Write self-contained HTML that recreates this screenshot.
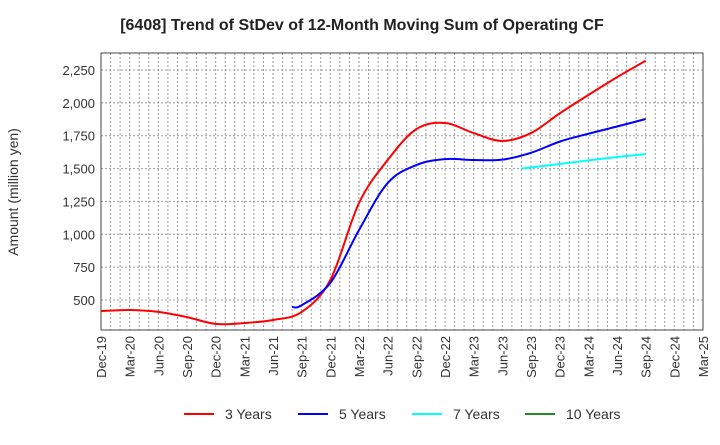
<!DOCTYPE html>
<html><head><meta charset="utf-8"><style>
body{margin:0;background:#fff;font-family:"Liberation Sans",sans-serif;}
svg text{font-family:"Liberation Sans",sans-serif;}
</style></head><body>
<svg width="720" height="440" xmlns="http://www.w3.org/2000/svg" id="svg">
<text x="362" y="30" text-anchor="middle" font-size="16" font-weight="bold" fill="#222">[6408]  Trend of StDev of 12-Month Moving Sum of Operating CF</text>
<text transform="translate(18,192) rotate(-90)" text-anchor="middle" font-size="14" fill="#333">Amount (million yen)</text>
<g id="grid"></g><g id="series"></g><g id="axes"></g><g id="legend"></g>
</svg>
<script>
const xLabels=["Dec-19","Mar-20","Jun-20","Sep-20","Dec-20","Mar-21","Jun-21","Sep-21","Dec-21","Mar-22","Jun-22","Sep-22","Dec-22","Mar-23","Jun-23","Sep-23","Dec-23","Mar-24","Jun-24","Sep-24","Dec-24","Mar-25"];
const yTicks=[500,750,1000,1250,1500,1750,2000,2250];
const yTickLabels=["500","750","1,000","1,250","1,500","1,750","2,000","2,250"];
// month indices from Dec-19
const m3=[0,3,6,9,12,15,18,21,24,27,30,33,36,39,42,45,48,51,54,57];
const v3=[416,424,410,370,318,325,348,409,652,1238,1565,1800,1847,1770,1710,1770,1920,2060,2195,2320];
const m5=[20,21,24,27,30,33,36,39,42,45,48,51,54,57];
const v5=[447,460,630,1032,1390,1527,1572,1565,1568,1620,1705,1765,1820,1877];
const m7=[44,48,51,54,57];
const v7=[1500,1535,1562,1588,1610];
const m10=[];const v10=[];
const L=101,R=703,T=53,B=330;
const X=m=>L+m*(R-L)/63;
const Y=v=>300-(v-500)*(230/1750);
const NS="http://www.w3.org/2000/svg";
function mk(tag,attrs,parent){const e=document.createElementNS(NS,tag);for(const k in attrs)e.setAttribute(k,attrs[k]);parent.appendChild(e);return e;}
const grid=document.getElementById('grid');
for(let m=1;m<63;m++){const l=mk('line',{x1:X(m),x2:X(m),y1:T,y2:B,stroke:'#999','stroke-dasharray':'2,2','stroke-width':1},grid);

}
yTicks.forEach((v,i)=>{const l=mk('line',{x1:L,x2:R,y1:Y(v),y2:Y(v),stroke:'#999','stroke-dasharray':'2,2'},grid);


const t=mk('text',{x:L-6,y:Y(v)+5,'text-anchor':'end','font-size':13,fill:'#333'},grid);t.textContent=yTickLabels[i];

});
const axes=document.getElementById('axes');
const fr=mk('rect',{x:L,y:T,width:R-L,height:B-T,fill:'none',stroke:'#444'},axes);


xLabels.forEach((s,i)=>{const x=X(i*3);const t=mk('text',{transform:`translate(${x+5},${B+6}) rotate(-90)`,'text-anchor':'end','font-size':13,fill:'#333'},axes);t.textContent=s;

});
function path(ms,vs){const p=ms.map((m,i)=>[X(m),Y(vs[i])]);if(!p.length)return'';let d=`M${p[0][0]},${p[0][1]}`;
for(let i=0;i<p.length-1;i++){const p0=p[i-1]||p[i],p1=p[i],p2=p[i+1],p3=p[i+2]||p2;
d+=` C${p1[0]+(p2[0]-p0[0])/6},${p1[1]+(p2[1]-p0[1])/6} ${p2[0]-(p3[0]-p1[0])/6},${p2[1]-(p3[1]-p1[1])/6} ${p2[0]},${p2[1]}`;}return d;}
const ser=document.getElementById('series');
[[m3,v3,'#ff0000','line-3-years'],[m5,v5,'#0000ff','line-5-years'],[m7,v7,'#00ffff','line-7-years'],[m10,v10,'#228b22','line-10-years']].forEach(s=>{if(!s[0].length)return;
const p=mk('path',{d:path(s[0],s[1]),fill:'none',stroke:s[2],'stroke-width':2},ser);

});
const lg=document.getElementById('legend');
[['3 Years','#ff0000',184],['5 Years','#0000ff',298],['7 Years','#00ffff',412],['10 Years','#228b22',525]].forEach(e=>{
const g=mk('g',{},lg);


mk('line',{x1:e[2],x2:e[2]+30,y1:414,y2:414,stroke:e[1],'stroke-width':2},g);
const t=mk('text',{x:e[2]+41,y:419,'font-size':14,fill:'#333'},g);t.textContent=e[0];});
</script>
</body></html>
